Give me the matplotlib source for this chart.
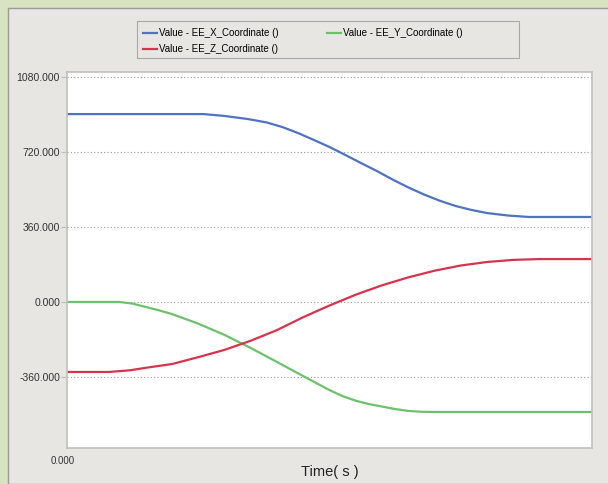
import numpy as np
import matplotlib
matplotlib.use('Agg')
import matplotlib.pyplot as plt
from matplotlib.patches import Rectangle
from matplotlib.ticker import FormatStrFormatter

# 데이터
t_x = [0, 2.6, 3.0, 3.45, 3.8, 4.1, 4.4, 4.7, 5.0, 5.3, 5.6, 5.9, 6.2, 6.5, 6.8, 7.1, 7.4, 7.7, 8.0, 8.4, 8.8, 10]
ee_x = [902, 902, 893, 878, 862, 840, 811, 778, 744, 706, 667, 629, 588, 550, 516, 486, 461, 442, 427, 415, 408, 408]

t_y = [0, 1.0, 1.25, 1.5, 1.75, 2.0, 2.5, 3.0, 3.5, 4.0, 4.5, 5.0, 5.25, 5.5, 5.75, 6.0, 6.25, 6.5, 6.75, 7.0, 10]
ee_y = [0, 0, -8, -24, -40, -58, -104, -158, -221, -288, -356, -423, -452, -474, -490, -502, -514, -523, -527, -528, -528]

t_z = [0, 0.8, 1.2, 1.5, 2.0, 2.5, 3.0, 3.5, 4.0, 4.5, 5.0, 5.5, 6.0, 6.5, 7.0, 7.5, 8.0, 8.5, 9.0, 10]
ee_z = [-336, -336, -328, -316, -298, -265, -230, -186, -135, -73, -17, 35, 80, 118, 150, 175, 192, 202, 206, 206]

y_ticks = [-360, 0, 360, 720, 1080]
labels = ['Value - EE_X_Coordinate ()', 'Value - EE_Y_Coordinate ()', 'Value - EE_Z_Coordinate ()']

plt.rcParams['font.family'] = ['Liberation Sans Narrow', 'Liberation Sans', 'DejaVu Sans']

W, H = 608, 484
fig = plt.figure(figsize=(W / 100, H / 100), dpi=100)
fig.patch.set_facecolor('#d7e3c1')

# 회색 패널
panel = Rectangle((8 / W, 0), 1, 1 - 8 / H, transform=fig.transFigure,
                  facecolor='#e8e6e3', edgecolor='#9a9a9a', linewidth=1.0, zorder=0)
fig.add_artist(panel)

ax = fig.add_axes([67 / W, 1 - 448 / H, (592 - 67) / W, (448 - 72) / H])
ax.set_facecolor('white')
ax.plot(t_x, ee_x, color='#4f72c2', linewidth=1.6)
ax.plot(t_y, ee_y, color='#6cc26c', linewidth=1.6)
ax.plot(t_z, ee_z, color='#d8334d', linewidth=1.6)

ax.set_xlim(0, 10)
ax.set_ylim(-701, 1104)
ax.set_yticks(y_ticks)
ax.yaxis.set_major_formatter(FormatStrFormatter('%.3f'))
ax.set_xticks([])
ax.grid(axis='y', linestyle=(0, (1, 2)), color='#999999', linewidth=0.8)
ax.tick_params(axis='y', length=4, pad=1, color='#bbbbbb', labelsize=7.5, labelcolor='#333333')
for s in ax.spines.values():
    s.set_color('#c0c0c0')
    s.set_linewidth(1.2)

fig.text(63 / W, 1 - 461 / H, '0.000', fontsize=7, color='#333333', ha='center', va='center')
fig.text(330 / W, 1 - 472 / H, 'Time( s )', fontsize=10.5, color='#222222', ha='center', va='center')

# 범례 테두리
box = Rectangle((137 / W, 1 - 58 / H), (519 - 137) / W, (58 - 21) / H, transform=fig.transFigure,
                facecolor='#e8e6e3', edgecolor='#a8a8a8', linewidth=0.8, zorder=1)
fig.add_artist(box)

handles = ax.get_lines()
leg = fig.legend([handles[0], handles[2], handles[1]], [labels[0], labels[2], labels[1]],
                 loc='upper left', bbox_to_anchor=(143 / W, 1 - 28 / H),
                 ncol=2, fontsize=7, frameon=False,
                 handlelength=1.45, handletextpad=0.2, borderpad=0, borderaxespad=0,
                 labelspacing=0.65, columnspacing=5.0)
leg.set_zorder(2)

fig.savefig('out.png', dpi=100, facecolor=fig.get_facecolor())
